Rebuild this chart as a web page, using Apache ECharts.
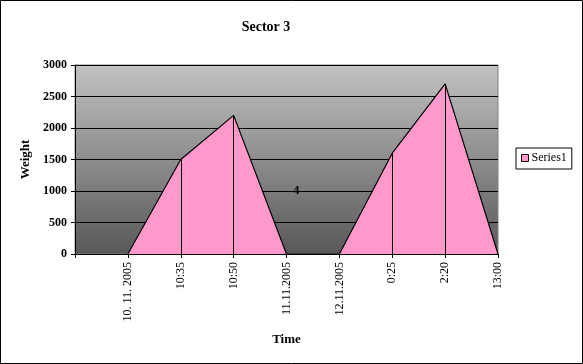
<!DOCTYPE html>
<html>
<head>
<meta charset="utf-8">
<script src="https://cdn.jsdelivr.net/npm/echarts@6/dist/echarts.min.js"></script>
<style>
    html, body { margin: 0; padding: 0; background: #fff; }
    #chart { width: 583px; height: 364px; }
</style>
</head>
<body>
<div id="chart"></div>
<script>
const categories = ['', '10. 11. 2005', '10:35', '10:50', '11.11.2005', '12.11.2005', '0:25', '2:20', '13:00'];
const weights = [null, 0, 1500, 2200, 0, 0, 1600, 2700, 0];
const yTicks = [0, 500, 1000, 1500, 2000, 2500, 3000];

const SERIF = 'Liberation Serif';

// Excel style drop lines from each point down to the axis
const dropLines = weights
    .map((v, i) => (v > 0 ? [{ coord: [i, 0] }, { coord: [i, v] }] : null))
    .filter(Boolean);

const chart = echarts.init(document.getElementById('chart'));
chart.setOption({
    animation: false,
    title: {
        text: 'Sector 3',
        left: 261,
        textAlign: 'center',
        top: 15,
        textStyle: { fontFamily: SERIF, fontSize: 14, fontWeight: 'bold', color: '#000' },
    },
    legend: {
        orient: 'vertical',
        left: 516,
        top: 148,
        padding: [4, 5, 5, 5],
        borderColor: '#000',
        borderWidth: 1,
        icon: 'rect',
        itemWidth: 7,
        itemHeight: 7,
        itemGap: 4,
        itemStyle: { borderColor: '#000', borderWidth: 1 },
        textStyle: { fontFamily: SERIF, fontSize: 12, color: '#000', padding: [0, 0, 0, -2] },
        data: ['Series1'],
    },
    grid: {
        left: 75,
        right: 85,
        top: 65,
        bottom: 110,
        show: true,
        borderColor: '#808080',
        borderWidth: 1,
        backgroundColor: new echarts.graphic.LinearGradient(0, 0, 0, 1, [
            { offset: 0, color: '#c2c2c2' },
            { offset: 1, color: '#585858' },
        ]),
    },
    xAxis: {
        type: 'category',
        data: categories,
        boundaryGap: false,
        name: 'Time',
        nameLocation: 'middle',
        nameGap: 79,
        nameTextStyle: { fontFamily: SERIF, fontSize: 13, fontWeight: 'bold', color: '#000' },
        axisLine: { lineStyle: { color: '#000', width: 1 } },
        axisTick: { show: true, interval: 0, length: 4, lineStyle: { color: '#000' } },
        axisLabel: {
            interval: 0,
            rotate: 90,
            margin: 8,
            fontFamily: SERIF,
            fontSize: 12,
            color: '#000',
        },
        splitLine: { show: false },
    },
    yAxis: {
        type: 'value',
        min: yTicks[0],
        max: yTicks[yTicks.length - 1],
        interval: 500,
        name: 'Weight',
        nameLocation: 'middle',
        nameRotate: 90,
        nameGap: 42,
        nameTextStyle: { fontFamily: SERIF, fontSize: 13, fontWeight: 'bold', color: '#000' },
        axisLine: { show: true, lineStyle: { color: '#000', width: 1 } },
        axisTick: { show: true, length: 4, lineStyle: { color: '#000' } },
        axisLabel: {
            fontFamily: SERIF,
            fontSize: 12,
            fontWeight: 'bold',
            color: '#000',
            margin: 8,
            formatter: (v) => String(v),
        },
        splitLine: { show: true, lineStyle: { color: '#000', width: 1 } },
    },
    series: [
        {
            name: 'Series1',
            type: 'line',
            data: weights,
            showSymbol: false,
            symbol: 'none',
            itemStyle: { color: '#ff99cc' },
            lineStyle: { color: '#000', width: 1.2 },
            areaStyle: { color: '#ff99cc', opacity: 1 },
            markLine: {
                silent: true,
                symbol: ['none', 'none'],
                label: { show: false },
                lineStyle: { color: '#000', width: 1, type: 'solid' },
                data: dropLines,
            },
        },
    ],
    graphic: [
        {
            type: 'rect',
            shape: { x: 0.5, y: 0.5, width: 582, height: 363 },
            style: { fill: 'none', stroke: '#000', lineWidth: 1 },
            silent: true,
        },
        {
            type: 'text',
            left: 293,
            top: 184,
            style: { text: '4', fontFamily: SERIF, fontSize: 13, fontWeight: 'bold', fill: '#000' },
            z: 100,
        },
    ],
});
</script>
</body>
</html>
